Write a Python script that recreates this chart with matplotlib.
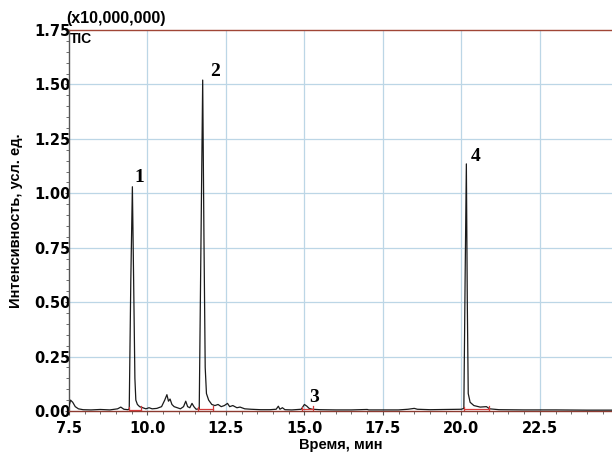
import matplotlib
matplotlib.use("Agg")
import matplotlib.pyplot as plt
from matplotlib.ticker import MultipleLocator

# ---- data (time, min ; intensity, x10,000,000) ----
time = [7.50, 7.55, 7.62, 7.70, 7.80, 7.95, 8.20, 8.50, 8.80, 9.05, 9.15, 9.25, 9.38, 9.42,
        9.47, 9.52, 9.56, 9.60, 9.63, 9.68, 9.75, 9.85, 9.95, 10.05, 10.15, 10.30, 10.45,
        10.55, 10.62, 10.67, 10.72, 10.78, 10.85, 10.95, 11.05, 11.15, 11.22, 11.28, 11.35,
        11.42, 11.48, 11.55, 11.65, 11.70, 11.76, 11.80, 11.84, 11.88, 11.95, 12.05, 12.15,
        12.25, 12.35, 12.45, 12.55, 12.62, 12.72, 12.85, 12.95, 13.10, 13.30, 13.60, 13.90,
        14.10, 14.17, 14.22, 14.30, 14.38, 14.60, 14.90, 15.00, 15.08, 15.15, 15.25, 15.50,
        16.00, 16.50, 17.00, 17.05, 17.50, 18.00, 18.30, 18.50, 18.60, 19.00, 19.50, 20.00,
        20.08, 20.12, 20.16, 20.19, 20.22, 20.28, 20.40, 20.60, 20.80, 20.90, 21.20, 22.00,
        23.00, 24.00, 24.80]
intensity = [0.020, 0.050, 0.040, 0.020, 0.010, 0.006, 0.005, 0.007, 0.005, 0.010, 0.018, 0.008,
             0.006, 0.010, 0.600, 1.030, 0.600, 0.150, 0.050, 0.030, 0.020, 0.015, 0.010, 0.015,
             0.010, 0.012, 0.020, 0.050, 0.075, 0.045, 0.055, 0.030, 0.020, 0.015, 0.010, 0.020,
             0.045, 0.020, 0.015, 0.035, 0.020, 0.008, 0.010, 0.700, 1.520, 0.800, 0.200, 0.080,
             0.050, 0.030, 0.025, 0.030, 0.020, 0.025, 0.035, 0.020, 0.025, 0.015, 0.018, 0.010,
             0.008, 0.006, 0.006, 0.008, 0.022, 0.008, 0.015, 0.006, 0.005, 0.008, 0.030, 0.022,
             0.012, 0.008, 0.006, 0.005, 0.005, 0.007, 0.005, 0.005, 0.005, 0.008, 0.012, 0.008,
             0.006, 0.007, 0.008, 0.012, 0.600, 1.135, 0.500, 0.080, 0.040, 0.025, 0.018, 0.020,
             0.010, 0.006, 0.005, 0.005, 0.004, 0.004]

# integration baselines (start, end) of the numbered peaks
peak_starts = [9.40, 11.62, 14.92, 20.08]
peak_ends = [9.80, 12.10, 15.28, 20.88]
baseline_level = [0.006, 0.008, 0.008, 0.008]

peak_labels = ["1", "2", "3", "4"]
label_x = [9.75, 12.15, 15.30, 20.44]
label_y = [1.052, 1.540, 0.041, 1.148]

x_ticks = [7.5, 10.0, 12.5, 15.0, 17.5, 20.0, 22.5]
y_ticks = [0.00, 0.25, 0.50, 0.75, 1.00, 1.25, 1.50, 1.75]

# ---- figure ----
fig = plt.figure(figsize=(6.12, 4.55), dpi=100)
ax = fig.add_axes([0.1127, 0.0967, 0.8873, 0.8374])

ax.set_xlim(7.5, 24.8)
ax.set_ylim(0, 1.75)

grid_c = "#bcd6e6"
for xv in x_ticks[1:]:
    ax.axvline(xv, color=grid_c, lw=0.9, zorder=0)
for yv in y_ticks[1:-1]:
    ax.axhline(yv, color=grid_c, lw=0.9, zorder=0)

ax.plot(time, intensity, color="#1a1a1a", lw=0.9, zorder=3)

red = "#d23c3c"
for s, e, b in zip(peak_starts, peak_ends, baseline_level):
    ax.plot([s, e], [b, b], color=red, lw=0.9, zorder=4)
    ax.plot([s, s], [0, 0.02], color=red, lw=0.9, zorder=4)
    ax.plot([e, e], [0, 0.025], color=red, lw=0.9, zorder=4)

for t, lx, ly in zip(peak_labels, label_x, label_y):
    ax.text(lx, ly, t, family="Liberation Serif", fontweight="bold", fontsize=14,
            ha="center", va="baseline", color="black")

ax.set_xticks(x_ticks)
ax.set_yticks(y_ticks)
ax.set_xticklabels([f"{v:.1f}" for v in x_ticks])
ax.set_yticklabels([f"{v:.2f}" for v in y_ticks])
ax.xaxis.set_minor_locator(MultipleLocator(0.5))
ax.yaxis.set_minor_locator(MultipleLocator(0.05))
ax.tick_params(axis="both", which="major", direction="out", length=3, width=0.8,
               color="#555555", labelsize=10.5)
ax.tick_params(axis="x", which="major", pad=4)
ax.tick_params(axis="y", which="major", pad=-4)
ax.tick_params(axis="both", which="minor", direction="out", length=2, width=0.6,
               color="#555555")
for lab in ax.get_xticklabels() + ax.get_yticklabels():
    lab.set_fontweight("bold")
    lab.set_family("DejaVu Sans")

ax.spines["right"].set_visible(False)
ax.spines["top"].set_color("#a04636")
ax.spines["bottom"].set_color("#8c3a30")
ax.spines["left"].set_color("#555555")
for sp in ax.spines.values():
    sp.set_linewidth(1.0)

fig.text(0.556, 0.021, "Время, мин", family="Liberation Sans", fontweight="bold",
         fontsize=10.5, ha="center", va="center")
ax.set_ylabel("Интенсивность, усл. ед.", family="Liberation Sans", fontweight="bold",
              fontsize=10.5, labelpad=8)

fig.text(0.108, 0.942, "(x10,000,000)", family="Liberation Sans", fontweight="bold",
         fontsize=11.5, ha="left", va="bottom")
ax.text(0.002, 0.995, "TIC", transform=ax.transAxes, family="Liberation Sans",
        fontweight="bold", fontsize=10, ha="left", va="top")

fig.savefig("out.png", dpi=100)
